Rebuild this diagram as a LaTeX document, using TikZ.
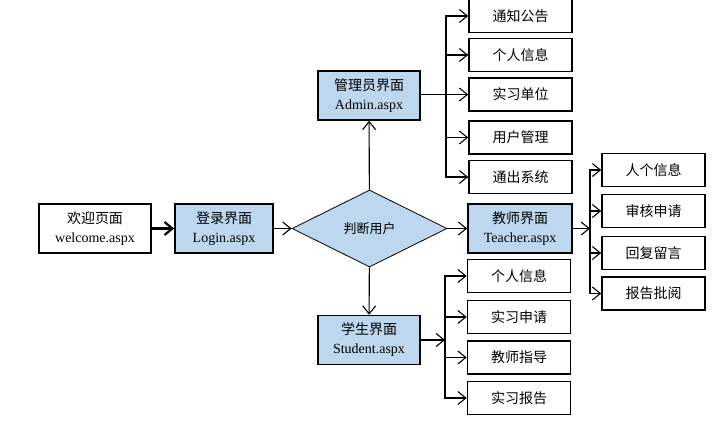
\documentclass[tikz,border=0pt]{standalone}
\usepackage{fontspec}
\setmainfont{Liberation Serif}
\newfontfamily\cjk{Noto Sans CJK SC}
\usepackage{xcolor}
\usetikzlibrary{arrows.meta,shapes.geometric}
\definecolor{pageblue}{RGB}{189,215,238}

\begin{document}
\begin{tikzpicture}[x=1pt, y=-1pt,
  page/.style={draw, line width=1.6pt, fill=pageblue, minimum height=49pt,
    inner sep=0pt, align=center, font=\fontsize{14}{19}\selectfont},
  item/.style={draw, line width=1.6pt, minimum width=103pt, minimum height=33pt,
    inner sep=0pt, font=\cjk\fontsize{14}{16}\selectfont},
  link/.style={line width=1.1pt, -{Straight Barb[length=8pt,width=13pt]}}]
  \useasboundingbox (0,0) rectangle (726,422);

  % main flow
  \node[page, fill=white, minimum width=112pt] (welcome) at (95,228.5) {{\cjk 欢迎页面}\\welcome.aspx};
  \node[page, minimum width=98pt] (login) at (224,228.5) {{\cjk 登录界面}\\Login.aspx};
  \node[draw, line width=0.8pt, fill=pageblue, diamond, aspect=2, minimum width=155pt,
    minimum height=77pt, inner sep=0pt, font=\cjk\fontsize{13}{15}\selectfont] (judge) at (369.5,228.5) {判断用户};
  \node[page, minimum width=102pt] (admin) at (369,95.5) {{\cjk 管理员界面}\\Admin.aspx};
  \node[page, minimum width=102pt] (student) at (369,340) {{\cjk 学生界面}\\Student.aspx};
  \node[page, minimum width=104pt] (teacher) at (520,228.5) {{\cjk 教师界面}\\Teacher.aspx};

  \draw[link, line width=2.2pt] (welcome) -- (login);
  \draw[link] (login) -- (judge);
  \draw[link] (judge) -- (admin);
  \draw[link] (judge) -- (student);
  \draw[link] (judge) -- (teacher);

  % admin pages
  \node[item] (a1) at (520.5,16) {通知公告};
  \node[item] (a2) at (520.5,55) {个人信息};
  \node[item] (a3) at (520.5,94.5) {实习单位};
  \node[item] (a4) at (520.5,137.5) {用户管理};
  \node[item] (a5) at (520.5,177) {通出系统};
  \coordinate (atrunk) at (446,94.5);
  \draw[link] (admin.east |- a3) -- (a3);
  \foreach \n in {a1,a2,a4,a5}
    \draw[link] (atrunk) |- (\n.west);

  % teacher pages
  \node[item] (t1) at (653.5,170) {人个信息};
  \node[item] (t2) at (653.5,211) {审核申请};
  \node[item] (t3) at (653.5,253) {回复留言};
  \node[item] (t4) at (653.5,293.5) {报告批阅};
  \coordinate (ttrunk) at (590,228.5);
  \draw[link] (teacher) -- (ttrunk);
  \foreach \n in {t1,t2,t3,t4}
    \draw[link] (ttrunk) |- (\n.west);

  % student pages
  \node[item] (s1) at (519,276) {个人信息};
  \node[item] (s2) at (519,317) {实习申请};
  \node[item] (s3) at (519,357.5) {教师指导};
  \node[item] (s4) at (519,398) {实习报告};
  \coordinate (strunk) at (445,340);
  \draw[link] (student) -- (strunk);
  \foreach \n in {s1,s2,s3,s4}
    \draw[link] (strunk) |- (\n.west);
\end{tikzpicture}
\end{document}
